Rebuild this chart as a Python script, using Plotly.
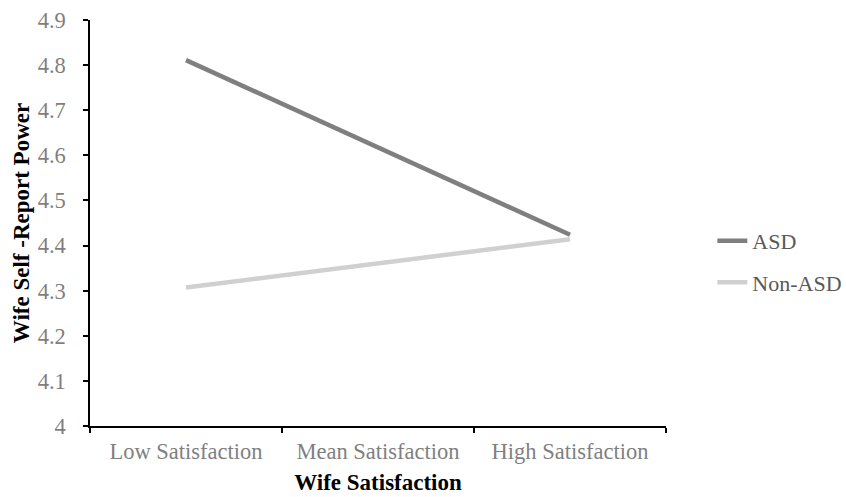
import plotly.graph_objects as go

categories = ["Low Satisfaction", "Mean Satisfaction", "High Satisfaction"]
asd_x = ["Low Satisfaction", "High Satisfaction"]
asd_values = [4.811, 4.424]
non_asd_x = ["Low Satisfaction", "High Satisfaction"]
non_asd_values = [4.307, 4.414]
y_ticks = [4.0, 4.1, 4.2, 4.3, 4.4, 4.5, 4.6, 4.7, 4.8, 4.9]
y_tick_labels = ["4", "4.1", "4.2", "4.3", "4.4", "4.5", "4.6", "4.7", "4.8", "4.9"]

FONT = "Liberation Serif, Times New Roman, serif"
TICK_COLOR = "#7f7f7f"
TICK_SIZE = 22.5
TITLE_SIZE = 23

fig = go.Figure()
fig.add_trace(go.Scatter(x=asd_x, y=asd_values, mode="lines", name="ASD",
                         legendgroup="asd",
                         line=dict(color="#7f7f7f", width=4.5)))
fig.add_trace(go.Scatter(x=non_asd_x, y=non_asd_values, mode="lines", name="Non-ASD",
                         legendgroup="nonasd",
                         line=dict(color="#d0d0d0", width=4.5)))

fig.update_layout(
    width=846, height=497,
    margin=dict(l=90, r=180, t=20, b=71, autoexpand=False),
    paper_bgcolor="white", plot_bgcolor="white",
    font=dict(family=FONT, size=TICK_SIZE, color=TICK_COLOR),
    showlegend=True,
    legend=dict(xref="container", yref="container",
                x=0.842, y=0.473, xanchor="left", yanchor="middle",
                font=dict(family=FONT, size=22, color="#595959"),
                tracegroupgap=10, itemwidth=30),
    xaxis=dict(
        type="category", categoryorder="array", categoryarray=categories,
        range=[-0.5, 2.5], tickson="boundaries",
        showline=True, linecolor="black", linewidth=1.5,
        ticks="outside", ticklen=5, tickcolor="black", tickwidth=1.5,
        ticklabelstandoff=4,
        showgrid=False, zeroline=False, automargin=False,
        tickfont=dict(family=FONT, size=TICK_SIZE, color=TICK_COLOR),
        title=dict(text="<b>Wife Satisfaction</b>", standoff=11,
                   font=dict(family=FONT, size=TITLE_SIZE, color="black")),
    ),
    yaxis=dict(
        range=[4.0, 4.9], tickvals=y_ticks, ticktext=y_tick_labels,
        showline=True, linecolor="black", linewidth=1.5,
        ticks="outside", ticklen=5, tickcolor="black", tickwidth=1.5,
        ticklabelstandoff=13,
        showgrid=False, zeroline=False, automargin=False,
        tickfont=dict(family=FONT, size=TICK_SIZE, color=TICK_COLOR),
        title=dict(text="<b>Wife Self -Report Power</b>", standoff=2,
                   font=dict(family=FONT, size=TITLE_SIZE, color="black")),
    ),
)

fig.write_html("out.html")
